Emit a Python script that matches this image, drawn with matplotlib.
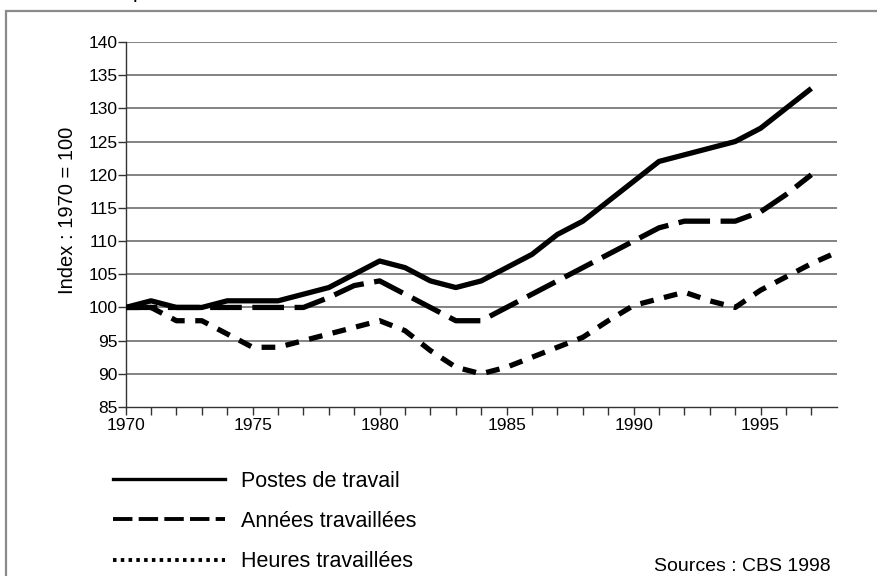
import matplotlib
matplotlib.use("Agg")
import matplotlib.pyplot as plt
from matplotlib.lines import Line2D
from matplotlib.patches import Rectangle

plt.rcParams['font.family'] = ['Liberation Sans', 'DejaVu Sans']

years = list(range(1970, 1998))
postes = [100, 101, 100, 100, 101, 101, 101, 102, 103, 105, 107, 106, 104, 103,
          104, 106, 108, 111, 113, 116, 119, 122, 123, 124, 125, 127, 130, 133]
annees = [100, 100, 100, 100, 100, 100, 100, 100, 101.5, 103.3, 104, 102, 100, 98,
          98, 100, 102, 104, 106, 108, 110, 112, 113, 113, 113, 114.4, 117, 120]
heures_years = list(range(1970, 1999))
heures = [100, 100, 98, 98, 96, 94, 94, 95, 96, 97, 98, 96.5, 93.5, 91,
          90, 91, 92.5, 94, 95.5, 98, 100.3, 101.3, 102.3, 101, 100, 102.6, 104.6, 106.6, 108.3]

labels = ["Postes de travail", "Années travaillées", "Heures travaillées"]

fig = plt.figure(figsize=(8.77, 5.76), dpi=100)
ax = fig.add_axes([0.1433, 0.2934, 0.8108, 0.6337])

gray = "#7a7a7a"
for v in range(90, 145, 5):
    ax.axhline(v, color=gray, lw=1.3, zorder=1)

ax.plot(years, postes, color="black", lw=3.8, solid_capstyle="butt", zorder=3)
ax.plot(years, annees, color="black", lw=3.8, linestyle=(0, (6.0, 2.0)), zorder=3)
ax.plot(heures_years, heures, color="black", lw=3.8, linestyle=(0, (2.6, 2.0)), zorder=3)

ax.set_xlim(1970, 1998)
ax.set_ylim(85, 140)
ax.set_yticks(range(85, 145, 5))
ax.set_xticks(range(1970, 2000, 5)[:6])
ax.set_xticks([y for y in range(1971, 1998) if y % 5], minor=True)
ax.tick_params(axis='both', which='both', direction='out', length=6, width=1.0,
               color="#333333", labelsize=12.5, pad=0)
ax.tick_params(axis='x', pad=2)
for s in ['top', 'right']:
    ax.spines[s].set_visible(False)
for s in ['left', 'bottom']:
    ax.spines[s].set_color("#333333")
    ax.spines[s].set_linewidth(1.0)
ax.set_ylabel("Index : 1970 = 100", fontsize=14.5)
ax.yaxis.set_label_coords(-0.069, 0.54)

handles = [
    Line2D([], [], color="black", lw=2.4),
    Line2D([], [], color="black", lw=2.8, linestyle=(0, (5, 1.6))),
    Line2D([], [], color="black", lw=2.8, linestyle=(0, (0.9, 1.1))),
]
fig.legend(handles, labels, loc="upper left", bbox_to_anchor=(0.129, 0.183),
           frameon=False, fontsize=15.5, handlelength=5.2, handletextpad=0.75,
           labelspacing=0.9, borderaxespad=0, borderpad=0)

fig.text(0.947, 5 / 576, "Sources : CBS 1998", fontsize=14, ha="right", va="baseline")
fig.text(133 / 877, 1.004, "p", fontsize=15, ha="left", va="baseline")

fig.add_artist(Rectangle((6 / 877, -0.1), 1.2, (576 - 11) / 576 + 0.1,
                         transform=fig.transFigure, fill=False,
                         edgecolor="#8a8a8a", lw=1.6))

fig.savefig("out.png", dpi=100)
